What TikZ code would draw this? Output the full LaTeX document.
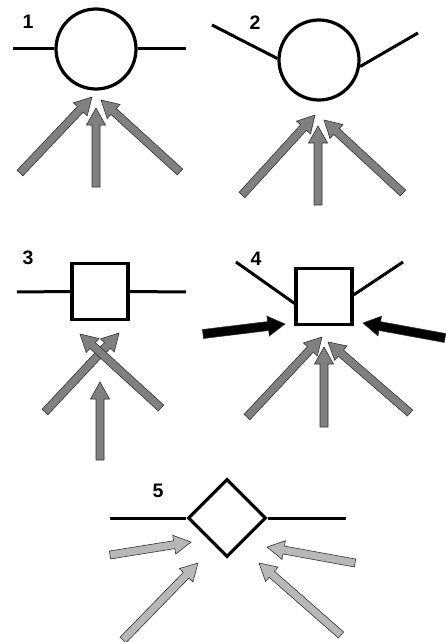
\documentclass[tikz,border=0pt]{standalone}
\usepackage{fontspec}
\setsansfont{Liberation Sans}
\usetikzlibrary{calc,positioning,shapes.geometric}

\definecolor{arrowgray}{gray}{0.5}
\definecolor{lightgray}{gray}{0.72}

\tikzset{
  part/.style={draw, line width=3.2pt, inner sep=0pt},
  pipe/.style={line width=3pt},
  tag/.style={font=\sffamily\bfseries\fontsize{19.5}{19.5}\selectfont},
  arrowedge/.style={draw=black!80, line width=0.6pt, line join=miter},
}

% fill, half shaft, half head, tail, tip
\newcommand{\blockarrow}[5]{%
  \coordinate (h) at ($(#5)!17pt!(#4)$);
  \filldraw[arrowedge, fill=#1]
    ($(#4)!#2!90:(#5)$) -- ($(h)!#2!90:(#5)$) -- ($(h)!#3!90:(#5)$) -- (#5)
    -- ($(h)!#3!-90:(#5)$) -- ($(h)!#2!-90:(#5)$) -- ($(#4)!#2!-90:(#5)$) -- cycle;
}

\begin{document}
\begin{tikzpicture}[x=1pt, y=-1pt]

    \useasboundingbox (0,0) rectangle (445,642);

    % 1
    \node[part, circle, minimum size=80pt] (c1) at (96,49) {};
    \node[tag] (l1) at (28,22) {1};
    \draw[pipe] (13,49) -- (c1.west);
    \draw[pipe] (c1.east) -- (186,49);
    \blockarrow{arrowgray}{4pt}{9.5pt}{20,173}{92,97}
    \blockarrow{arrowgray}{4pt}{9.5pt}{96,187}{96,108}
    \blockarrow{arrowgray}{4pt}{9.5pt}{180,172}{101,100}

    % 2
    \node[part, circle, minimum size=80pt] (c2) at (319,60) {};
    \node[tag] (l2) at (255,23) {2};
    \draw[pipe] (212,25) -- (c2.178);
    \draw[pipe] (c2.-9) -- (418,33);
    \blockarrow{arrowgray}{4pt}{9.5pt}{242,195}{315,115}
    \blockarrow{arrowgray}{4pt}{9.5pt}{318,205}{318,126}
    \blockarrow{arrowgray}{4pt}{9.5pt}{403,193}{324,120}

    % 3
    \node[part, minimum size=56pt] (s3) at (100,291.5) {};
    \node[tag] (l3) at (28,258) {3};
    \draw[pipe] (17,292) -- (s3.west);
    \draw[pipe] (s3.east) -- (186,292);
    \blockarrow{arrowgray}{4pt}{9.5pt}{45,412}{119,333}
    \blockarrow{arrowgray}{4pt}{9.5pt}{161,408}{80,334}
    \blockarrow{arrowgray}{4pt}{9.5pt}{100,460}{100,382}

    % 4
    \node[part, minimum size=56pt] (s4) at (324,296.5) {};
    \node[tag] (l4) at (256,259) {4};
    \draw[pipe] (236,262) -- (s4.193);
    \draw[pipe] (s4.3) -- (403,262);
    \blockarrow{black}{4.5pt}{10pt}{203,334}{285,324}
    \blockarrow{black}{4.5pt}{10pt}{445,338}{363,323}
    \blockarrow{arrowgray}{4pt}{9.5pt}{247,417}{322,337}
    \blockarrow{arrowgray}{4pt}{9.5pt}{324,427}{324,347}
    \blockarrow{arrowgray}{4pt}{9.5pt}{410,413}{328,342}

    % 5
    \node[part, diamond, minimum width=78pt, minimum height=78pt] (d5) at (227,518) {};
    \node[tag] (l5) at (158,491) {5};
    \draw[pipe] (110,518) -- (d5.west);
    \draw[pipe] (d5.east) -- (346,518);
    \blockarrow{lightgray}{4pt}{9.5pt}{110,555}{191,542}
    \blockarrow{lightgray}{4pt}{9.5pt}{355,563}{267,547}
    \blockarrow{lightgray}{4pt}{9.5pt}{123,640}{198,563}
    \blockarrow{lightgray}{4pt}{9.5pt}{341,635}{259,563}

\end{tikzpicture}
\end{document}
